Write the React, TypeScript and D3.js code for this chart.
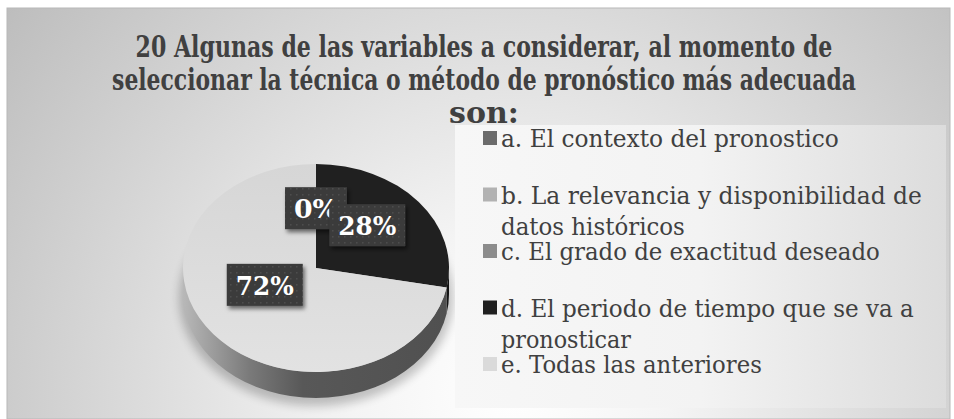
import React, { useLayoutEffect, useRef, useState } from "react";
import * as d3 from "d3";

const titleLines = [
  "20 Algunas de las variables a considerar, al momento de",
  "seleccionar la técnica o método de pronóstico más adecuada",
  "son:",
];
const titleWidths = [697, 744, 0];

const categories = ["a", "b", "c", "d", "e"];
const legendLines = [
  ["a. El contexto del pronostico"],
  ["b. La relevancia y disponibilidad de", "datos históricos"],
  ["c. El grado de exactitud deseado"],
  ["d. El periodo de tiempo que se va a", "pronosticar"],
  ["e. Todas las anteriores"],
];
const legendWidths = [
  [338],
  [421, 184],
  [379],
  [413, 130],
  [261],
];
const values = [0, 0, 0, 28, 72];
const labels = ["0%", "0%", "0%", "28%", "72%"];
const colors = ["#6b6b6b", "#b2b2b2", "#8c8c8c", "#202020", "#dadada"];

const W = 954;
const H = 419;
const cx = 316;
const cy = 268;
const rx = 133;
const ry = 104;
const depth = 26;

function P(t: number, dy = 0): [number, number] {
  return [cx + rx * Math.sin(t), cy - ry * Math.cos(t) + dy];
}

const serif = "DejaVu Serif";

type FitProps = {
  x: number;
  y: number;
  width: number;
  anchor: "start" | "middle";
  children: string;
  [k: string]: any;
};

function FitText({ x, y, width, anchor, children, ...rest }: FitProps) {
  const ref = useRef<SVGTextElement>(null);
  const [k, setK] = useState(1);
  useLayoutEffect(() => {
    if (ref.current && width) {
      const nat = ref.current.getComputedTextLength();
      if (nat > 0) setK(width / nat);
    }
  }, [width, children]);
  return (
    <text
      ref={ref}
      x={0}
      y={0}
      textAnchor={anchor}
      transform={`translate(${x},${y}) scale(${k},1)`}
      {...rest}
    >
      {children}
    </text>
  );
}

export default function App() {
  const pie = d3.pie<number>().sort(null).value((d) => d)(values);
  const legendY = d3.scalePoint<string>().domain(categories).range([138, 364]);

  const topPath = (a0: number, a1: number) => {
    const p0 = P(a0);
    const p1 = P(a1);
    const large = a1 - a0 > Math.PI ? 1 : 0;
    return `M${cx},${cy}L${p0[0]},${p0[1]}A${rx},${ry} 0 ${large} 1 ${p1[0]},${p1[1]}Z`;
  };
  const sidePath = (a0: number, a1: number) => {
    const a = Math.max(a0, Math.PI / 2);
    const b = Math.min(a1, (3 * Math.PI) / 2);
    if (b <= a) return null;
    const pa = P(a);
    const pb = P(b);
    const pbd = P(b, depth);
    const pad = P(a, depth);
    return `M${pa[0]},${pa[1]}A${rx},${ry} 0 0 1 ${pb[0]},${pb[1]}L${pbd[0]},${pbd[1]}A${rx},${ry} 0 0 0 ${pad[0]},${pad[1]}Z`;
  };

  const shownLabels = new Set<string>();
  const fontSize = 26;
  const labelW = (s: string) =>
    s.split("").reduce((acc, c) => acc + (c === "%" ? 1.0 : 0.5), 0) * 28 + 20;

  return (
    <svg
      width={W}
      height={H}
      style={{ position: "absolute", left: 0, top: 0 }}
      viewBox={`0 0 ${W} ${H}`}
    >
      <defs>
        <radialGradient id="bg" gradientUnits="userSpaceOnUse" cx={510} cy={390} r={640}>
          <stop offset="0" stopColor="#ffffff" />
          <stop offset="0.25" stopColor="#f4f4f4" />
          <stop offset="1" stopColor="#bcbcbc" />
        </radialGradient>
        <linearGradient id="legbg" x1="0" x2="1" y1="0" y2="0">
          <stop offset="0" stopColor="#f7f7f7" />
          <stop offset="0.5" stopColor="#f3f3f3" />
          <stop offset="1" stopColor="#dcdcdc" />
        </linearGradient>
        <linearGradient id="side" gradientUnits="userSpaceOnUse" x1={cx - rx} x2={cx + rx} y1={0} y2={0}>
          <stop offset="0" stopColor="#b8b8b8" />
          <stop offset="0.25" stopColor="#7a7a7a" />
          <stop offset="0.45" stopColor="#585858" />
          <stop offset="1" stopColor="#505050" />
        </linearGradient>
        <linearGradient id="topE" x1="0" x2="0" y1="0" y2="1">
          <stop offset="0" stopColor="#d6d6d6" />
          <stop offset="1" stopColor="#e2e2e2" />
        </linearGradient>
        <pattern id="dots" width="6" height="6" patternUnits="userSpaceOnUse">
          <rect width="6" height="6" fill="#3a3a3a" />
          <rect x="2" y="2" width="1.5" height="1.5" fill="#4e4e4e" />
        </pattern>
        <filter id="blur" x="-20%" y="-20%" width="140%" height="140%">
          <feGaussianBlur stdDeviation="5" />
        </filter>
        <filter id="shadow" x="-20%" y="-20%" width="150%" height="160%">
          <feDropShadow dx="2" dy="3" stdDeviation="2" floodColor="#000" floodOpacity="0.55" />
        </filter>
      </defs>

      <rect x={7} y={8} width={943} height={411} fill="url(#bg)" stroke="#b8b8b8" strokeWidth={1} />

      {titleLines.map((t, i) =>
        titleWidths[i] ? (
          <FitText
            key={i}
            x={484}
            y={57 + i * 33}
            width={titleWidths[i]}
            anchor="middle"
            fontFamily={serif}
            fontWeight="bold"
            fontSize={30}
            fill="#404040"
          >
            {t}
          </FitText>
        ) : (
          <text
            key={i}
            x={484}
            y={57 + i * 33}
            textAnchor="middle"
            fontFamily={serif}
            fontWeight="bold"
            fontSize={30}
            fill="#404040"
          >
            {t}
          </text>
        )
      )}

      {/* pie shadow */}
      <ellipse cx={cx} cy={cy + depth + 4} rx={rx + 4} ry={ry + 4} fill="#000" opacity={0.22} filter="url(#blur)" />

      {/* sides */}
      {pie.map((s, i) => {
        const p = sidePath(s.startAngle, s.endAngle);
        if (!p || s.value === 0) return null;
        return <path key={"s" + i} d={p} fill={i === 3 ? "#141414" : "url(#side)"} />;
      })}

      {/* tops */}
      {pie.map((s, i) =>
        s.value === 0 ? null : (
          <path key={"t" + i} d={topPath(s.startAngle, s.endAngle)} fill={i === 4 ? "url(#topE)" : colors[i]} />
        )
      )}

      {/* labels */}
      {pie.map((s, i) => {
        const lab = labels[i];
        const mid = (s.startAngle + s.endAngle) / 2;
        const key = `${lab}@${mid.toFixed(3)}`;
        if (shownLabels.has(key)) return null;
        shownLabels.add(key);
        const lx = cx + rx * 0.5 * Math.sin(mid);
        const ly = cy - ry * 0.45 * Math.cos(mid) - 13;
        const w = labelW(lab);
        const h = 42;
        return (
          <g key={"l" + i}>
            <rect x={lx - w / 2} y={ly - h / 2} width={w} height={h} fill="url(#dots)" filter="url(#shadow)" />
            <FitText
              x={lx}
              y={ly + 10}
              width={w - 18}
              anchor="middle"
              fontFamily={serif}
              fontWeight="bold"
              fontSize={fontSize}
              fill="#ffffff"
            >
              {lab}
            </FitText>
          </g>
        );
      })}

      {/* legend */}
      <rect x={455} y={125} width={491} height={283} fill="url(#legbg)" />
      {categories.map((c, i) => {
        const y = legendY(c) as number;
        return (
          <g key={"lg" + i}>
            <rect x={483} y={y - 7} width={14} height={14} fill={colors[i]} />
            {legendLines[i].map((ln, j) => (
              <FitText
                key={j}
                x={501}
                y={y + 9 + j * 31}
                width={legendWidths[i][j]}
                anchor="start"
                fontFamily={serif}
                fontSize={24}
                fill="#404040"
              >
                {ln}
              </FitText>
            ))}
          </g>
        );
      })}
    </svg>
  );
}
